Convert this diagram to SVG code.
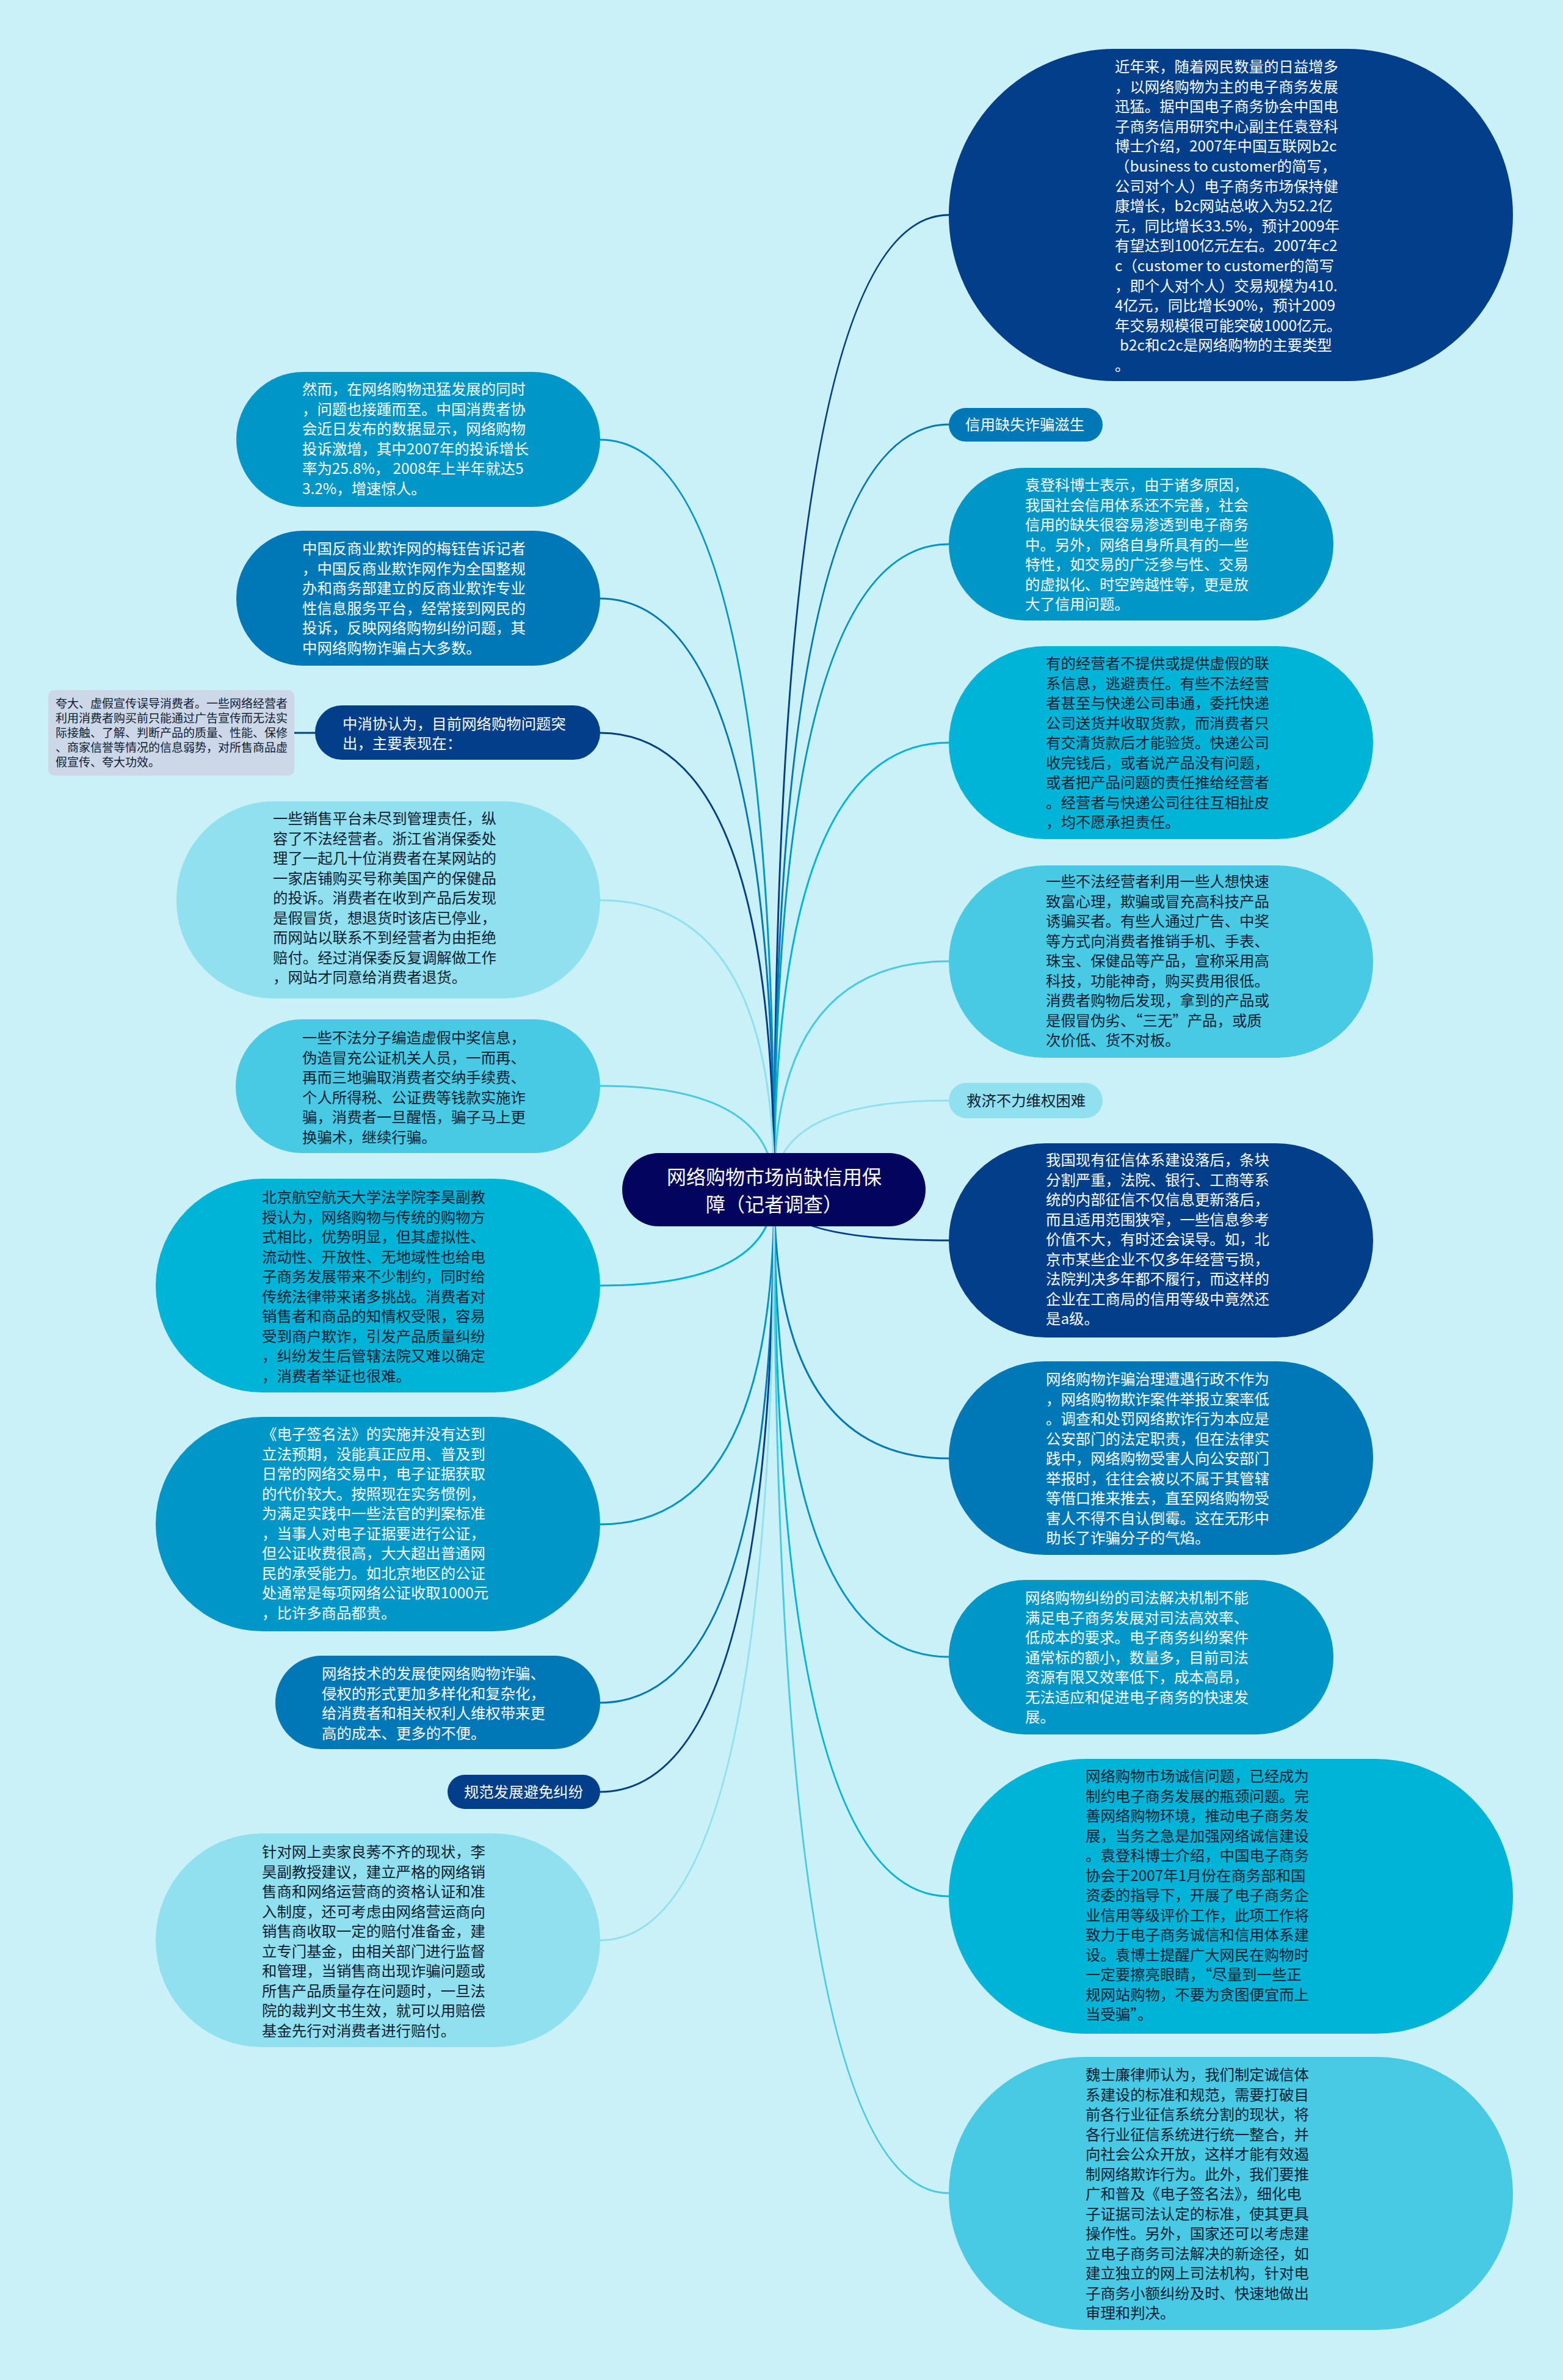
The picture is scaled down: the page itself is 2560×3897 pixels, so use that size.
<svg xmlns="http://www.w3.org/2000/svg" width="2560" height="3897" viewBox="0 0 2560 3897">
<style>
.t{font-family:"Noto Sans CJK SC","Noto Sans",sans-serif;font-size:24.4px}
.w{fill:#ffffff}
.d{fill:#102030}
.c1{fill:#023e8a}.c2{fill:#0077b6}.c3{fill:#0096c7}.c4{fill:#00b4d8}.c5{fill:#48cae4}.c6{fill:#90e0ef}
.ln{fill:none;stroke-width:3}
</style>
<rect width="2560" height="3897" fill="#caf0f8"/>
<g id="connectors">
<path class="ln" stroke="#023e8a" d="M1268 1948 Q1268 352 1554 352"/>
<path class="ln" stroke="#0077b6" d="M1268 1948 Q1268 695 1554 695"/>
<path class="ln" stroke="#0096c7" d="M1268 1948 Q1268 891 1554 891"/>
<path class="ln" stroke="#00b4d8" d="M1268 1948 Q1268 1216 1554 1216"/>
<path class="ln" stroke="#48cae4" d="M1268 1948 Q1268 1574 1554 1574"/>
<path class="ln" stroke="#90e0ef" d="M1268 1948 Q1268 1802 1554 1802"/>
<path class="ln" stroke="#023e8a" d="M1268 1948 Q1268 2031 1554 2031"/>
<path class="ln" stroke="#0077b6" d="M1268 1948 Q1268 2388 1554 2388"/>
<path class="ln" stroke="#0096c7" d="M1268 1948 Q1268 2713 1554 2713"/>
<path class="ln" stroke="#00b4d8" d="M1268 1948 Q1268 3105 1554 3105"/>
<path class="ln" stroke="#48cae4" d="M1268 1948 Q1268 3591 1554 3591"/>
<path class="ln" stroke="#0096c7" d="M1268 1948 Q1268 720 983 720"/>
<path class="ln" stroke="#0077b6" d="M1268 1948 Q1268 980 983 980"/>
<path class="ln" stroke="#023e8a" d="M1268 1948 Q1268 1200 983 1200"/>
<path class="ln" stroke="#90e0ef" d="M1268 1948 Q1268 1474 983 1474"/>
<path class="ln" stroke="#48cae4" d="M1268 1948 Q1268 1778 983 1778"/>
<path class="ln" stroke="#00b4d8" d="M1268 1948 Q1268 2105 983 2105"/>
<path class="ln" stroke="#0096c7" d="M1268 1948 Q1268 2496 983 2496"/>
<path class="ln" stroke="#0077b6" d="M1268 1948 Q1268 2788 983 2788"/>
<path class="ln" stroke="#023e8a" d="M1268 1948 Q1268 2934 983 2934"/>
<path class="ln" stroke="#90e0ef" d="M1268 1948 Q1268 3177 983 3177"/>
<path class="ln" stroke="#023e8a" d="M480 1200 L516 1200"/>
</g>
<g id="center">
<rect x="1019" y="1888" width="497" height="120" rx="60" fill="#03045e"/>
<text class="t w" style="font-size:32px" text-anchor="middle" x="1268" y="1939"><tspan x="1268">网络购物市场尚缺信用保</tspan><tspan x="1268" dy="45">障（记者调查）</tspan></text>
</g>
<g id="r1">
<rect class="c1" x="1554" y="80" width="924" height="544" rx="272"/>
<text class="t w" x="1826" y="118"><tspan x="1826">近年来，随着网民数量的日益增多</tspan><tspan x="1826" dy="32.6">，以网络购物为主的电子商务发展</tspan><tspan x="1826" dy="32.6">迅猛。据中国电子商务协会中国电</tspan><tspan x="1826" dy="32.6">子商务信用研究中心副主任袁登科</tspan><tspan x="1826" dy="32.6">博士介绍，2007年中国互联网b2c</tspan><tspan x="1826" dy="32.6">（business to customer的简写，</tspan><tspan x="1826" dy="32.6">公司对个人）电子商务市场保持健</tspan><tspan x="1826" dy="32.6">康增长，b2c网站总收入为52.2亿</tspan><tspan x="1826" dy="32.6">元，同比增长33.5%，预计2009年</tspan><tspan x="1826" dy="32.6">有望达到100亿元左右。2007年c2</tspan><tspan x="1826" dy="32.6">c（customer to customer的简写</tspan><tspan x="1826" dy="32.6">，即个人对个人）交易规模为410.</tspan><tspan x="1826" dy="32.6">4亿元，同比增长90%，预计2009</tspan><tspan x="1826" dy="32.6">年交易规模很可能突破1000亿元。</tspan><tspan x="1834" dy="32.6">b2c和c2c是网络购物的主要类型</tspan><tspan x="1826" dy="32.6">。</tspan></text>
</g>
<g id="r2">
<rect class="c2" x="1554" y="668" width="252" height="55" rx="27.5"/>
<text class="t w" x="1581" y="704">信用缺失诈骗滋生</text>
</g>
<g id="r3">
<rect class="c3" x="1554" y="766" width="630" height="250" rx="125"/>
<text class="t w" x="1679" y="803"><tspan x="1679">袁登科博士表示，由于诸多原因，</tspan><tspan x="1679" dy="32.5">我国社会信用体系还不完善，社会</tspan><tspan x="1679" dy="32.5">信用的缺失很容易渗透到电子商务</tspan><tspan x="1679" dy="32.5">中。另外，网络自身所具有的一些</tspan><tspan x="1679" dy="32.5">特性，如交易的广泛参与性、交易</tspan><tspan x="1679" dy="32.5">的虚拟化、时空跨越性等，更是放</tspan><tspan x="1679" dy="32.5">大了信用问题。</tspan></text>
</g>
<g id="r4">
<rect class="c4" x="1554" y="1058" width="695" height="316" rx="158"/>
<text class="t d" x="1713" y="1095"><tspan x="1713">有的经营者不提供或提供虚假的联</tspan><tspan x="1713" dy="32.5">系信息，逃避责任。有些不法经营</tspan><tspan x="1713" dy="32.5">者甚至与快递公司串通，委托快递</tspan><tspan x="1713" dy="32.5">公司送货并收取货款，而消费者只</tspan><tspan x="1713" dy="32.5">有交清货款后才能验货。快递公司</tspan><tspan x="1713" dy="32.5">收完钱后，或者说产品没有问题，</tspan><tspan x="1713" dy="32.5">或者把产品问题的责任推给经营者</tspan><tspan x="1713" dy="32.5">。经营者与快递公司往往互相扯皮</tspan><tspan x="1713" dy="32.5">，均不愿承担责任。</tspan></text>
</g>
<g id="r5">
<rect class="c5" x="1554" y="1417" width="695" height="315" rx="157"/>
<text class="t d" x="1713" y="1452"><tspan x="1713">一些不法经营者利用一些人想快速</tspan><tspan x="1713" dy="32.5">致富心理，欺骗或冒充高科技产品</tspan><tspan x="1713" dy="32.5">诱骗买者。有些人通过广告、中奖</tspan><tspan x="1713" dy="32.5">等方式向消费者推销手机、手表、</tspan><tspan x="1713" dy="32.5">珠宝、保健品等产品，宣称采用高</tspan><tspan x="1713" dy="32.5">科技，功能神奇，购买费用很低。</tspan><tspan x="1713" dy="32.5">消费者购物后发现，拿到的产品或</tspan><tspan x="1713" dy="32.5">是假冒伪劣、“三无”产品，或质</tspan><tspan x="1713" dy="32.5">次价低、货不对板。</tspan></text>
</g>
<g id="r6">
<rect class="c6" x="1554" y="1773" width="252" height="58" rx="29"/>
<text class="t d" x="1583" y="1811">救济不力维权困难</text>
</g>
<g id="r7">
<rect class="c1" x="1554" y="1872" width="695" height="318" rx="159"/>
<text class="t w" x="1713" y="1908"><tspan x="1713">我国现有征信体系建设落后，条块</tspan><tspan x="1713" dy="32.5">分割严重，法院、银行、工商等系</tspan><tspan x="1713" dy="32.5">统的内部征信不仅信息更新落后，</tspan><tspan x="1713" dy="32.5">而且适用范围狭窄，一些信息参考</tspan><tspan x="1713" dy="32.5">价值不大，有时还会误导。如，北</tspan><tspan x="1713" dy="32.5">京市某些企业不仅多年经营亏损，</tspan><tspan x="1713" dy="32.5">法院判决多年都不履行，而这样的</tspan><tspan x="1713" dy="32.5">企业在工商局的信用等级中竟然还</tspan><tspan x="1713" dy="32.5">是a级。</tspan></text>
</g>
<g id="r8">
<rect class="c2" x="1554" y="2229" width="695" height="317" rx="158"/>
<text class="t w" x="1713" y="2267"><tspan x="1713">网络购物诈骗治理遭遇行政不作为</tspan><tspan x="1713" dy="32.5">，网络购物欺诈案件举报立案率低</tspan><tspan x="1713" dy="32.5">。调查和处罚网络欺诈行为本应是</tspan><tspan x="1713" dy="32.5">公安部门的法定职责，但在法律实</tspan><tspan x="1713" dy="32.5">践中，网络购物受害人向公安部门</tspan><tspan x="1713" dy="32.5">举报时，往往会被以不属于其管辖</tspan><tspan x="1713" dy="32.5">等借口推来推去，直至网络购物受</tspan><tspan x="1713" dy="32.5">害人不得不自认倒霉。这在无形中</tspan><tspan x="1713" dy="32.5">助长了诈骗分子的气焰。</tspan></text>
</g>
<g id="r9">
<rect class="c3" x="1554" y="2587" width="630" height="253" rx="126"/>
<text class="t w" x="1679" y="2625"><tspan x="1679">网络购物纠纷的司法解决机制不能</tspan><tspan x="1679" dy="32.5">满足电子商务发展对司法高效率、</tspan><tspan x="1679" dy="32.5">低成本的要求。电子商务纠纷案件</tspan><tspan x="1679" dy="32.5">通常标的额小，数量多，目前司法</tspan><tspan x="1679" dy="32.5">资源有限又效率低下，成本高昂，</tspan><tspan x="1679" dy="32.5">无法适应和促进电子商务的快速发</tspan><tspan x="1679" dy="32.5">展。</tspan></text>
</g>
<g id="r10">
<rect class="c4" x="1554" y="2880" width="924" height="450" rx="225"/>
<text class="t d" x="1778" y="2917"><tspan x="1778">网络购物市场诚信问题，已经成为</tspan><tspan x="1778" dy="32.5">制约电子商务发展的瓶颈问题。完</tspan><tspan x="1778" dy="32.5">善网络购物环境，推动电子商务发</tspan><tspan x="1778" dy="32.5">展，当务之急是加强网络诚信建设</tspan><tspan x="1778" dy="32.5">。袁登科博士介绍，中国电子商务</tspan><tspan x="1778" dy="32.5">协会于2007年1月份在商务部和国</tspan><tspan x="1778" dy="32.5">资委的指导下，开展了电子商务企</tspan><tspan x="1778" dy="32.5">业信用等级评价工作，此项工作将</tspan><tspan x="1778" dy="32.5">致力于电子商务诚信和信用体系建</tspan><tspan x="1778" dy="32.5">设。袁博士提醒广大网民在购物时</tspan><tspan x="1778" dy="32.5">一定要擦亮眼睛，“尽量到一些正</tspan><tspan x="1778" dy="32.5">规网站购物，不要为贪图便宜而上</tspan><tspan x="1778" dy="32.5">当受骗”。</tspan></text>
</g>
<g id="r11">
<rect class="c5" x="1554" y="3368" width="924" height="447" rx="223"/>
<text class="t d" x="1778" y="3406"><tspan x="1778">魏士廉律师认为，我们制定诚信体</tspan><tspan x="1778" dy="32.5">系建设的标准和规范，需要打破目</tspan><tspan x="1778" dy="32.5">前各行业征信系统分割的现状，将</tspan><tspan x="1778" dy="32.5">各行业征信系统进行统一整合，并</tspan><tspan x="1778" dy="32.5">向社会公众开放，这样才能有效遏</tspan><tspan x="1778" dy="32.5">制网络欺诈行为。此外，我们要推</tspan><tspan x="1778" dy="32.5">广和普及《电子签名法》，细化电</tspan><tspan x="1778" dy="32.5">子证据司法认定的标准，使其更具</tspan><tspan x="1778" dy="32.5">操作性。另外，国家还可以考虑建</tspan><tspan x="1778" dy="32.5">立电子商务司法解决的新途径，如</tspan><tspan x="1778" dy="32.5">建立独立的网上司法机构，针对电</tspan><tspan x="1778" dy="32.5">子商务小额纠纷及时、快速地做出</tspan><tspan x="1778" dy="32.5">审理和判决。</tspan></text>
</g>
<g id="l1">
<rect class="c3" x="387" y="609" width="596" height="221" rx="110"/>
<text class="t w" x="495" y="646"><tspan x="495">然而，在网络购物迅猛发展的同时</tspan><tspan x="495" dy="32.5">，问题也接踵而至。中国消费者协</tspan><tspan x="495" dy="32.5">会近日发布的数据显示，网络购物</tspan><tspan x="495" dy="32.5">投诉激增，其中2007年的投诉增长</tspan><tspan x="495" dy="32.5">率为25.8%， 2008年上半年就达5</tspan><tspan x="495" dy="32.5">3.2%，增速惊人。</tspan></text>
</g>
<g id="l2">
<rect class="c2" x="387" y="869" width="596" height="221" rx="110"/>
<text class="t w" x="495" y="907"><tspan x="495">中国反商业欺诈网的梅钰告诉记者</tspan><tspan x="495" dy="32.5">，中国反商业欺诈网作为全国整规</tspan><tspan x="495" dy="32.5">办和商务部建立的反商业欺诈专业</tspan><tspan x="495" dy="32.5">性信息服务平台，经常接到网民的</tspan><tspan x="495" dy="32.5">投诉，反映网络购物纠纷问题，其</tspan><tspan x="495" dy="32.5">中网络购物诈骗占大多数。</tspan></text>
</g>
<g id="l3">
<rect class="c1" x="516" y="1155" width="467" height="89" rx="44"/>
<text class="t w" x="561" y="1194"><tspan x="561">中消协认为，目前网络购物问题突</tspan><tspan x="561" dy="32">出，主要表现在：</tspan></text>
</g>
<g id="l3a">
<rect x="79" y="1130" width="403" height="140" rx="10" fill="#ccd7e8"/>
<text class="t d" style="font-size:19px" x="91" y="1159"><tspan x="91">夸大、虚假宣传误导消费者。一些网络经营者</tspan><tspan x="91" dy="24">利用消费者购买前只能通过广告宣传而无法实</tspan><tspan x="91" dy="24">际接触、了解、判断产品的质量、性能、保修</tspan><tspan x="91" dy="24">、商家信誉等情况的信息弱势，对所售商品虚</tspan><tspan x="91" dy="24">假宣传、夸大功效。</tspan></text>
</g>
<g id="l4">
<rect class="c6" x="289" y="1312" width="694" height="323" rx="160"/>
<text class="t d" x="447" y="1349"><tspan x="447">一些销售平台未尽到管理责任，纵</tspan><tspan x="447" dy="32.5">容了不法经营者。浙江省消保委处</tspan><tspan x="447" dy="32.5">理了一起几十位消费者在某网站的</tspan><tspan x="447" dy="32.5">一家店铺购买号称美国产的保健品</tspan><tspan x="447" dy="32.5">的投诉。消费者在收到产品后发现</tspan><tspan x="447" dy="32.5">是假冒货，想退货时该店已停业，</tspan><tspan x="447" dy="32.5">而网站以联系不到经营者为由拒绝</tspan><tspan x="447" dy="32.5">赔付。经过消保委反复调解做工作</tspan><tspan x="447" dy="32.5">，网站才同意给消费者退货。</tspan></text>
</g>
<g id="l5">
<rect class="c5" x="386" y="1669" width="597" height="219" rx="109"/>
<text class="t d" x="495" y="1708"><tspan x="495">一些不法分子编造虚假中奖信息，</tspan><tspan x="495" dy="32.5">伪造冒充公证机关人员，一而再、</tspan><tspan x="495" dy="32.5">再而三地骗取消费者交纳手续费、</tspan><tspan x="495" dy="32.5">个人所得税、公证费等钱款实施诈</tspan><tspan x="495" dy="32.5">骗，消费者一旦醒悟，骗子马上更</tspan><tspan x="495" dy="32.5">换骗术，继续行骗。</tspan></text>
</g>
<g id="l6">
<rect class="c4" x="255" y="1930" width="728" height="350" rx="175"/>
<text class="t d" x="429" y="1969"><tspan x="429">北京航空航天大学法学院李昊副教</tspan><tspan x="429" dy="32.5">授认为，网络购物与传统的购物方</tspan><tspan x="429" dy="32.5">式相比，优势明显，但其虚拟性、</tspan><tspan x="429" dy="32.5">流动性、开放性、无地域性也给电</tspan><tspan x="429" dy="32.5">子商务发展带来不少制约，同时给</tspan><tspan x="429" dy="32.5">传统法律带来诸多挑战。消费者对</tspan><tspan x="429" dy="32.5">销售者和商品的知情权受限，容易</tspan><tspan x="429" dy="32.5">受到商户欺诈，引发产品质量纠纷</tspan><tspan x="429" dy="32.5">，纠纷发生后管辖法院又难以确定</tspan><tspan x="429" dy="32.5">，消费者举证也很难。</tspan></text>
</g>
<g id="l7">
<rect class="c3" x="255" y="2320" width="728" height="351" rx="175"/>
<text class="t w" x="429" y="2357"><tspan x="429">《电子签名法》的实施并没有达到</tspan><tspan x="429" dy="32.5">立法预期，没能真正应用、普及到</tspan><tspan x="429" dy="32.5">日常的网络交易中，电子证据获取</tspan><tspan x="429" dy="32.5">的代价较大。按照现在实务惯例，</tspan><tspan x="429" dy="32.5">为满足实践中一些法官的判案标准</tspan><tspan x="429" dy="32.5">，当事人对电子证据要进行公证，</tspan><tspan x="429" dy="32.5">但公证收费很高，大大超出普通网</tspan><tspan x="429" dy="32.5">民的承受能力。如北京地区的公证</tspan><tspan x="429" dy="32.5">处通常是每项网络公证收取1000元</tspan><tspan x="429" dy="32.5">，比许多商品都贵。</tspan></text>
</g>
<g id="l8">
<rect class="c2" x="451" y="2711" width="532" height="153" rx="76"/>
<text class="t w" x="527" y="2749"><tspan x="527">网络技术的发展使网络购物诈骗、</tspan><tspan x="527" dy="32.5">侵权的形式更加多样化和复杂化，</tspan><tspan x="527" dy="32.5">给消费者和相关权利人维权带来更</tspan><tspan x="527" dy="32.5">高的成本、更多的不便。</tspan></text>
</g>
<g id="l9">
<rect class="c1" x="733" y="2906" width="250" height="56" rx="28"/>
<text class="t w" x="760" y="2943">规范发展避免纠纷</text>
</g>
<g id="l10">
<rect class="c6" x="255" y="3002" width="728" height="350" rx="175"/>
<text class="t d" x="429" y="3041"><tspan x="429">针对网上卖家良莠不齐的现状，李</tspan><tspan x="429" dy="32.5">昊副教授建议，建立严格的网络销</tspan><tspan x="429" dy="32.5">售商和网络运营商的资格认证和准</tspan><tspan x="429" dy="32.5">入制度，还可考虑由网络营运商向</tspan><tspan x="429" dy="32.5">销售商收取一定的赔付准备金，建</tspan><tspan x="429" dy="32.5">立专门基金，由相关部门进行监督</tspan><tspan x="429" dy="32.5">和管理，当销售商出现诈骗问题或</tspan><tspan x="429" dy="32.5">所售产品质量存在问题时，一旦法</tspan><tspan x="429" dy="32.5">院的裁判文书生效，就可以用赔偿</tspan><tspan x="429" dy="32.5">基金先行对消费者进行赔付。</tspan></text>
</g>
</svg>
